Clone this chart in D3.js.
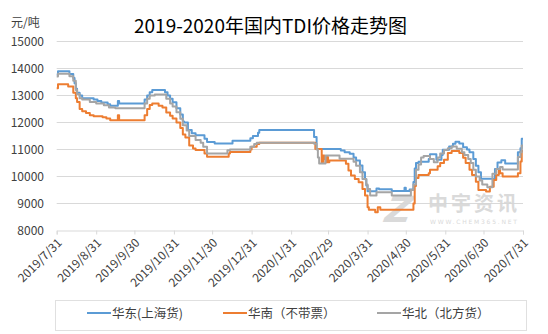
<!DOCTYPE html>
<html><head><meta charset="utf-8">
<script src="https://cdn.jsdelivr.net/npm/d3@7"></script>
<style>body{margin:0;background:#fff}svg{display:block}</style>
</head><body><svg id="c" width="548" height="334"></svg>
<script>
const title = "2019-2020年国内TDI价格走势图";
const unitLabel = "元/吨";
const seriesNames = ["华东(上海货)", "华南（不带票）", "华北（北方货）"];
const yTicks = [8000, 9000, 10000, 11000, 12000, 13000, 14000, 15000];
const xTickDates = ["2019-07-31","2019-08-31","2019-09-30","2019-10-31","2019-11-30","2019-12-31","2020-01-31","2020-02-29","2020-03-31","2020-04-30","2020-05-31","2020-06-30","2020-07-31"];
const xTickLabels = ["2019/7/31","2019/8/31","2019/9/30","2019/10/31","2019/11/30","2019/12/31","2020/1/31","2020/2/29","2020/3/31","2020/4/30","2020/5/31","2020/6/30","2020/7/31"];

const eastDates = ["2019-07-31","2019-08-01","2019-08-10","2019-08-13","2019-08-14","2019-08-15","2019-08-16","2019-08-18","2019-08-20","2019-08-29","2019-09-01","2019-09-04","2019-09-09","2019-09-11","2019-09-17","2019-09-18","2019-10-08","2019-10-10","2019-10-12","2019-10-14","2019-10-24","2019-10-26","2019-10-28","2019-10-30","2019-11-02","2019-11-05","2019-11-07","2019-11-08","2019-11-11","2019-11-14","2019-11-17","2019-11-24","2019-11-26","2019-12-02","2019-12-16","2019-12-30","2020-01-01","2020-01-05","2020-01-06","2020-02-18","2020-02-20","2020-03-10","2020-03-13","2020-03-17","2020-03-20","2020-03-22","2020-03-25","2020-03-27","2020-03-29","2020-03-30","2020-03-31","2020-04-07","2020-04-09","2020-04-19","2020-04-29","2020-04-30","2020-05-03","2020-05-06","2020-05-07","2020-05-08","2020-05-10","2020-05-18","2020-05-19","2020-05-24","2020-05-28","2020-05-29","2020-06-03","2020-06-06","2020-06-08","2020-06-11","2020-06-14","2020-06-17","2020-06-19","2020-06-22","2020-06-24","2020-06-26","2020-06-28","2020-07-09","2020-07-11","2020-07-14","2020-07-17","2020-07-27","2020-07-29","2020-07-30","2020-07-31"];
const eastValues = [13780,13900,13800,13650,13450,13250,13100,13000,12900,12850,12800,12740,12680,12620,12800,12700,12850,13000,13120,13200,13120,13000,12880,12750,12530,12300,12040,12000,11720,11600,11530,11400,11280,11220,11320,11420,11500,11620,11720,11460,11020,10960,10900,10840,10700,10590,10410,10160,9900,9670,9450,9560,9530,9460,9580,9460,9520,9800,10300,10500,10550,10650,10820,10620,10800,10990,11110,11210,11290,11220,11080,11000,10900,10650,10400,10160,9920,10280,10520,10600,10480,10900,11050,11400,11400];

const southDates = ["2019-07-31","2019-08-01","2019-08-09","2019-08-13","2019-08-15","2019-08-16","2019-08-18","2019-08-20","2019-08-23","2019-08-26","2019-08-29","2019-09-05","2019-09-08","2019-09-11","2019-09-17","2019-09-18","2019-10-08","2019-10-10","2019-10-12","2019-10-14","2019-10-19","2019-10-22","2019-10-25","2019-10-28","2019-10-30","2019-11-02","2019-11-05","2019-11-07","2019-11-09","2019-11-12","2019-11-15","2019-11-17","2019-11-24","2019-11-26","2019-12-13","2019-12-14","2019-12-30","2019-12-31","2020-01-04","2020-01-06","2020-02-19","2020-02-24","2020-02-25","2020-02-26","2020-02-27","2020-02-28","2020-02-29","2020-03-01","2020-03-14","2020-03-16","2020-03-18","2020-03-21","2020-03-24","2020-03-27","2020-03-29","2020-03-31","2020-04-01","2020-04-06","2020-04-08","2020-04-10","2020-05-06","2020-05-07","2020-05-08","2020-05-10","2020-05-18","2020-05-19","2020-05-25","2020-05-27","2020-05-30","2020-06-02","2020-06-05","2020-06-11","2020-06-14","2020-06-16","2020-06-19","2020-06-21","2020-06-24","2020-06-26","2020-07-02","2020-07-05","2020-07-08","2020-07-10","2020-07-12","2020-07-13","2020-07-15","2020-07-27","2020-07-29","2020-07-30","2020-07-31"];
const southValues = [13270,13420,13330,13100,12900,12760,12500,12420,12350,12270,12230,12190,12150,12080,12270,12080,12270,12500,12650,12700,12620,12560,12370,12250,12150,12000,11800,11560,11440,11150,11040,10980,10850,10730,10850,10910,11000,11100,11200,11250,11020,10530,10780,10650,10530,10720,10530,10590,10470,10220,10040,9910,9790,9540,9300,8860,8770,8680,8860,8770,9000,9650,9940,10060,10120,10250,10380,10500,10625,10875,10940,10875,10690,10500,10250,10060,9810,9500,9440,9625,9875,10060,10250,10120,10000,10120,10560,10940,10940];

const northDates = ["2019-07-31","2019-08-01","2019-08-10","2019-08-13","2019-08-15","2019-08-16","2019-08-18","2019-08-20","2019-08-26","2019-08-31","2019-09-06","2019-09-10","2019-09-15","2019-10-08","2019-10-10","2019-10-12","2019-10-16","2019-10-25","2019-10-28","2019-10-30","2019-11-02","2019-11-05","2019-11-07","2019-11-10","2019-11-12","2019-11-17","2019-11-21","2019-11-23","2019-11-26","2019-12-12","2019-12-14","2019-12-30","2020-01-02","2020-01-04","2020-02-18","2020-02-20","2020-02-21","2020-02-22","2020-02-27","2020-03-09","2020-03-20","2020-03-22","2020-03-25","2020-03-27","2020-03-30","2020-03-31","2020-04-02","2020-04-07","2020-04-19","2020-05-04","2020-05-06","2020-05-08","2020-05-10","2020-05-12","2020-05-14","2020-05-19","2020-05-22","2020-05-25","2020-05-27","2020-05-30","2020-06-02","2020-06-05","2020-06-09","2020-06-13","2020-06-15","2020-06-18","2020-06-20","2020-06-22","2020-06-24","2020-06-27","2020-06-29","2020-07-03","2020-07-07","2020-07-10","2020-07-13","2020-07-15","2020-07-27","2020-07-29","2020-07-30","2020-07-31"];
const northValues = [13700,13810,13710,13550,13200,13060,12900,12850,12760,12700,12640,12560,12530,12700,12880,13000,13040,12880,12700,12590,12380,12140,11900,11700,11500,11350,11250,11100,10850,10975,11000,11100,11200,11250,11210,11000,10700,10480,10780,10660,10550,10400,10160,9910,9700,9540,9300,9420,9300,9500,9700,10250,10440,10700,10760,10650,10530,10700,10850,10980,11050,11110,11030,10900,10800,10650,10500,10250,10000,9850,9700,9600,10100,10280,10350,10260,10720,10900,11150,11150];

const colors = ["#5B9BD5", "#ED7D31", "#A5A5A5"];
const font = "'Noto Sans CJK SC', 'Noto Sans', sans-serif";
const parse = d3.timeParse("%Y-%m-%d");

const svg = d3.select("#c");
const x = d3.scaleTime().domain([parse("2019-07-31"), parse("2020-07-31")]).range([56.7, 523]);
const y = d3.scaleLinear().domain([8000, 15000]).range([230.5, 41.5]);

// gridlines
svg.append("g").selectAll("line").data(yTicks.slice(1)).join("line")
  .attr("x1", x.range()[0]).attr("x2", x.range()[1])
  .attr("y1", d => y(d)).attr("y2", d => y(d))
  .attr("stroke", "#d9d9d9").attr("stroke-width", 1);

// y axis labels
svg.append("g").selectAll("text").data(yTicks).join("text")
  .attr("x", 44).attr("y", d => y(d)).attr("dy", "0.36em")
  .attr("text-anchor", "end").attr("font-family", font).attr("font-size", 12)
  .attr("fill", "#404040").text(d => d);

// x axis
const xAxis = d3.axisBottom(x).tickValues(xTickDates.map(parse)).tickSize(4).tickFormat("");
const gx = svg.append("g").attr("transform", `translate(0,${y(8000)})`).call(xAxis);
gx.select(".domain").attr("stroke", "#d9d9d9");
gx.selectAll(".tick line").attr("stroke", "#d9d9d9");
svg.append("g").selectAll("text").data(xTickDates).join("text")
  .attr("transform", (d) => `translate(${x(parse(d)) + 3},${y(8000) + 10}) rotate(-45)`)
  .attr("text-anchor", "end").attr("dy", "0.35em")
  .attr("font-family", font).attr("font-size", 12).attr("fill", "#404040")
  .text((d, i) => xTickLabels[i]);

// watermark
const wm = svg.append("g").attr("fill", "#d6d6d6").attr("opacity", 0.9);
wm.append("text").attr("x", 385).attr("y", 222).attr("font-family", "'DejaVu Sans', sans-serif")
  .attr("font-weight", "bold").attr("font-style", "italic").attr("font-size", 36).attr("transform", "skewX(-10) translate(38,0)").text("Z");
wm.append("text").attr("x", 428).attr("y", 211).attr("font-family", font).attr("font-weight", "bold")
  .attr("font-size", 20).attr("textLength", 89).text("中宇资讯");
wm.append("text").attr("x", 430).attr("y", 224).attr("font-family", "'DejaVu Sans', sans-serif")
  .attr("font-size", 6).attr("textLength", 87).text("WWW.CHEM365.NET");

// lines
const line = d3.line().x(d => x(d[0])).y(d => y(d[1])).curve(d3.curveStepAfter);
const series = [
  [eastDates, eastValues],
  [southDates, southValues],
  [northDates, northValues]
];
series.forEach(([ds, vs], i) => {
  const pts = ds.map((d, j) => [parse(d), vs[j]]);
  svg.append("path").datum(pts).attr("d", line)
    .attr("fill", "none").attr("stroke", colors[i]).attr("stroke-width", 2)
    .attr("stroke-linejoin", "round");
});

// title and unit
svg.append("text").attr("x", 270.5).attr("y", 33).attr("text-anchor", "middle")
  .attr("font-family", font).attr("font-size", 19).attr("fill", "#000").text(title);
svg.append("text").attr("x", 11).attr("y", 27)
  .attr("font-family", font).attr("font-size", 12).attr("fill", "#404040").text(unitLabel);

// legend
svg.append("rect").attr("x", 55.5).attr("y", 300.5).attr("width", 471).attr("height", 30)
  .attr("fill", "#fff").attr("stroke", "#e0e0e0");
const legX = [87, 223, 377];
const lg = svg.append("g").selectAll("g").data(seriesNames).join("g")
  .attr("transform", (d, i) => `translate(${legX[i]},313)`);
lg.append("line").attr("x1", 0).attr("x2", 24).attr("y1", 0).attr("y2", 0)
  .attr("stroke", (d, i) => colors[i]).attr("stroke-width", 2);
lg.append("text").attr("x", 25).attr("dy", "0.36em").attr("font-family", font)
  .attr("font-size", 12.5).attr("fill", "#404040").text(d => d);
</script></body></html>
